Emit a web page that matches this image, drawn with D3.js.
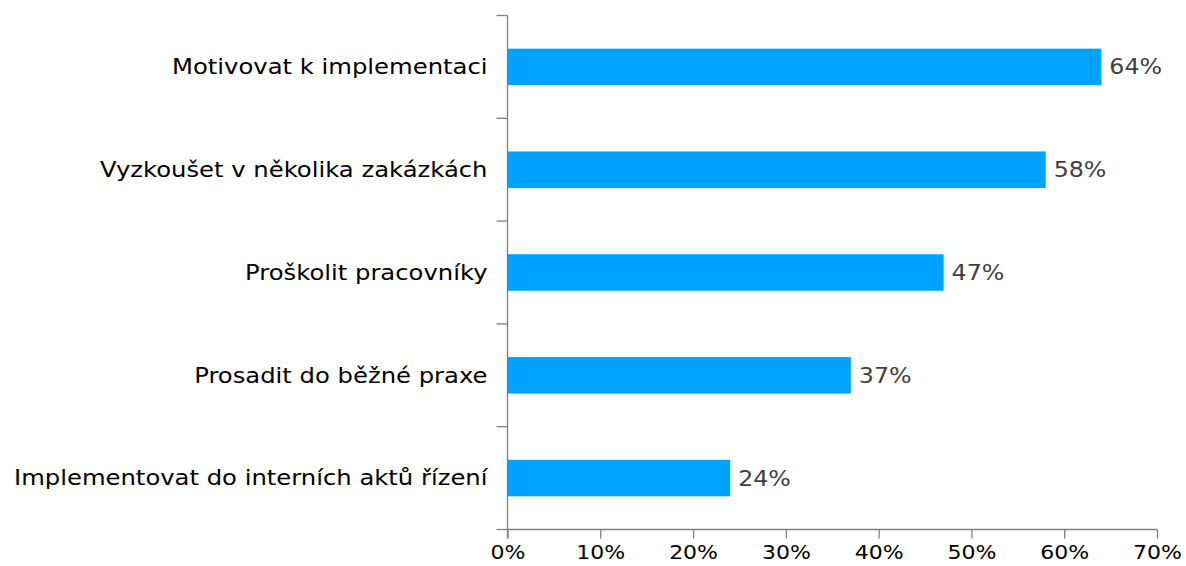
<!DOCTYPE html>
<html>
<head>
<meta charset="utf-8">
<style>
body { margin: 0; background: #fff; }
text { font-family: "DejaVu Sans", sans-serif; }
.axis path, .axis line { stroke: #7f7f7f; stroke-width: 1.3; }
.axis text { font-size: 20px; fill: #000; }
</style>
</head>
<body>
<svg width="1186" height="566"></svg>
<script src="https://d3js.org/d3.v7.min.js"></script>
<script>

var categories = [
  "Motivovat k implementaci",
  "Vyzkoušet v několika zakázkách",
  "Proškolit pracovníky",
  "Prosadit do běžné praxe",
  "Implementovat do interních aktů řízení"
];
var values = [64, 58, 47, 37, 24];
var xTicks = [0, 10, 20, 30, 40, 50, 60, 70];

var svg = d3.select("svg"),
    margin = {top: 15.5, right: 29, bottom: 36.5, left: 507.5},
    width = +svg.attr("width") - margin.left - margin.right,
    height = +svg.attr("height") - margin.top - margin.bottom;

var g = svg.append("g")
    .attr("transform", "translate(" + margin.left + "," + margin.top + ")");

var x = d3.scaleLinear().domain([0, 70]).range([0, width]);
var y = d3.scaleBand().domain(categories).range([0, height]).paddingInner(0.645).paddingOuter(0.3225);
var yb = d3.scaleBand().domain(categories).range([0, height]);

// y axis: ticks between categories
var yAxis = g.append("g").attr("class", "axis");
yAxis.append("line").attr("x1", 0).attr("x2", 0).attr("y1", 0).attr("y2", height + 9);
yAxis.selectAll(".tk").data(d3.range(categories.length + 1)).enter().append("line")
    .attr("x1", -11).attr("x2", 0)
    .attr("y1", function(i) { return i * yb.step(); })
    .attr("y2", function(i) { return i * yb.step(); });

g.selectAll(".cat").data(categories).enter().append("text")
    .attr("transform", function(d) { return "translate(-20," + (yb(d) + yb.bandwidth() / 2) + ") scale(1.157,1)"; })
    .attr("dy", "0.35em")
    .attr("text-anchor", "end")
    .style("font-size", "21px")
    .style("fill", "#000")
    .text(function(d) { return d; });

var xAxis = g.append("g").attr("class", "axis")
    .attr("transform", "translate(0," + height + ")")
    .call(d3.axisBottom(x).tickValues(xTicks).tickSize(9).tickPadding(6)
      .tickFormat(function(d) { return d + "%"; }));
xAxis.select(".domain").remove();
xAxis.append("line").attr("x1", 0).attr("x2", width).attr("y1", 0).attr("y2", 0);
xAxis.selectAll("text").attr("font-family", null).attr("font-size", null)
    .attr("transform", "scale(1.1,1)");

g.selectAll(".bar").data(values).enter().append("rect")
    .attr("x", 0)
    .attr("y", function(d, i) { return y(categories[i]); })
    .attr("width", function(d) { return x(d); })
    .attr("height", y.bandwidth())
    .attr("fill", "#00a2ff");

g.selectAll(".val").data(values).enter().append("text")
    .attr("transform", function(d, i) {
      return "translate(" + (x(d) + 8) + "," + (y(categories[i]) + y.bandwidth() / 2) + ") scale(1.13,1)";
    })
    .attr("dy", "0.36em")
    .style("font-size", "21px")
    .style("fill", "#404040")
    .text(function(d) { return d + "%"; });

</script>
</body>
</html>
